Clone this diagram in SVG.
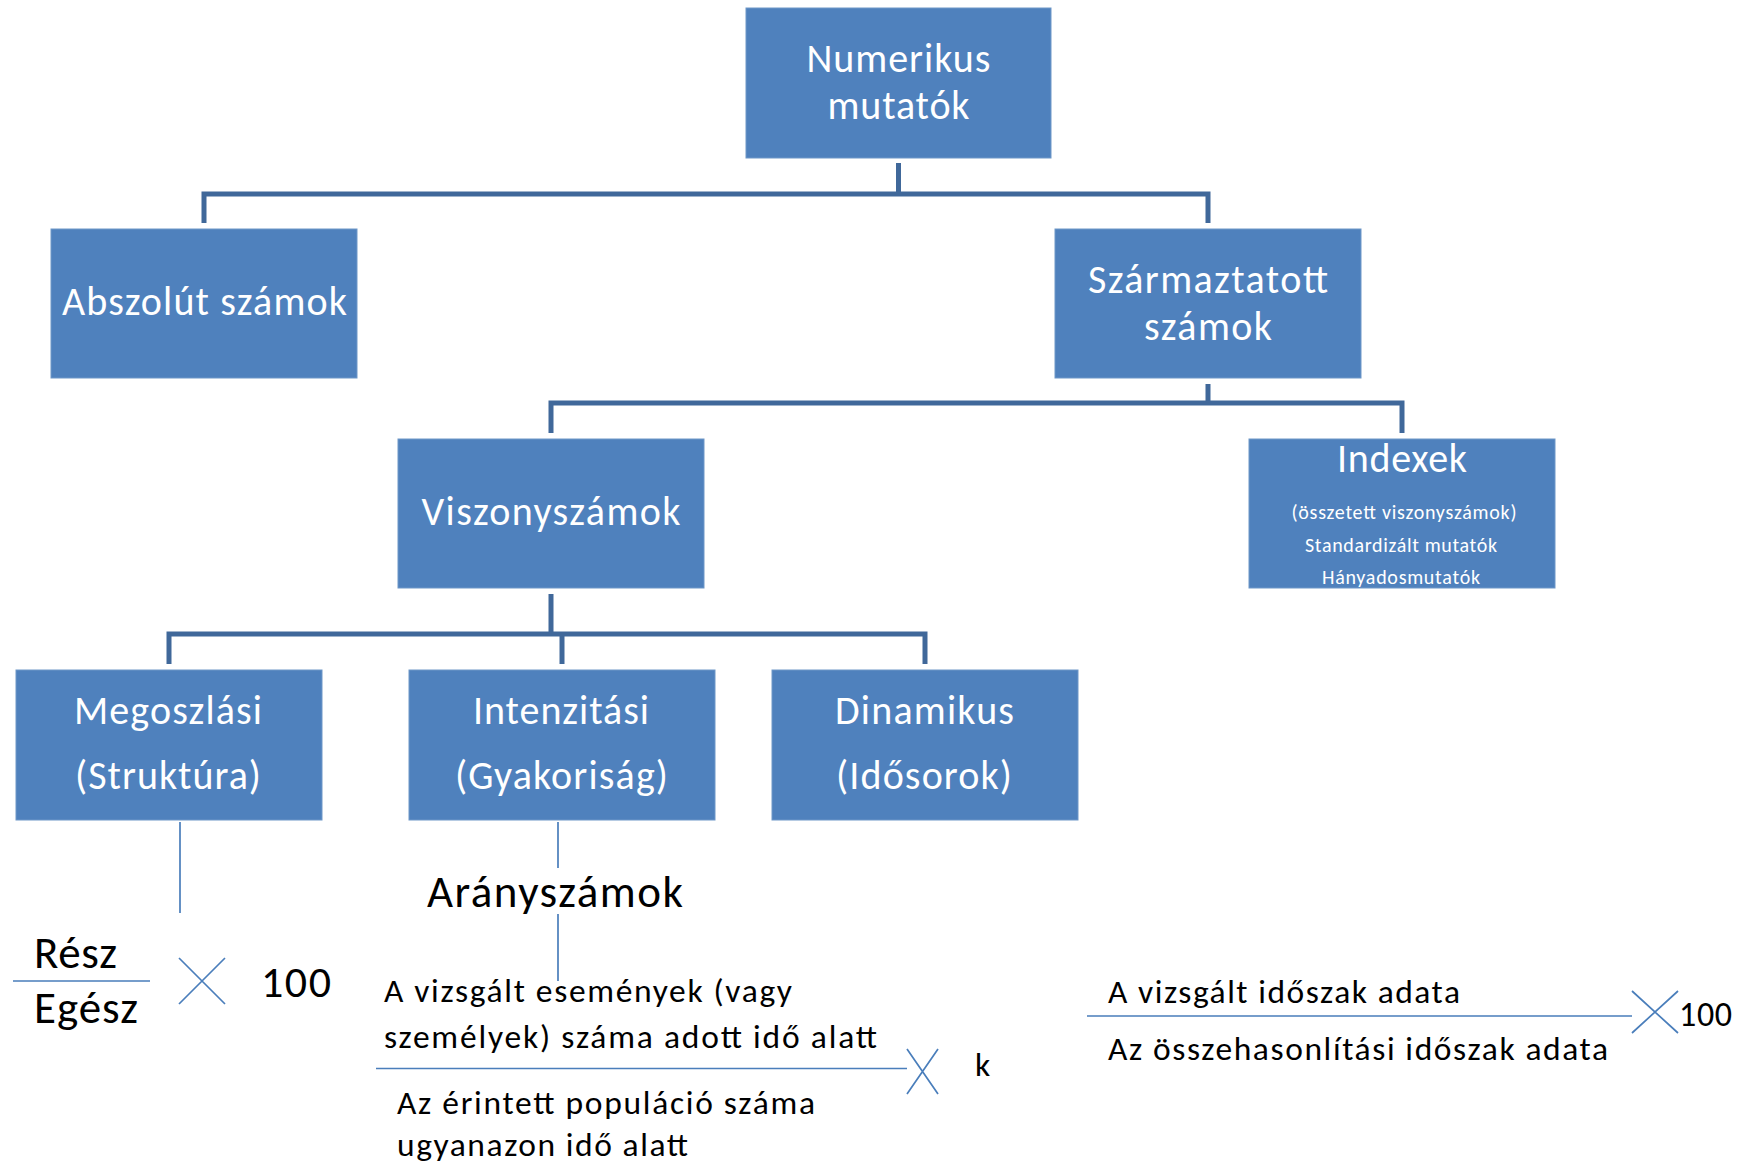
<svg xmlns="http://www.w3.org/2000/svg" width="1742" height="1165" viewBox="0 0 1742 1165">
<style>
.box{fill:#4F81BD;stroke:#6E97C8;stroke-width:1}
.bt{font-family:Carlito,Lato,"Open Sans",sans-serif;fill:#FFFFFF;font-size:40px;text-anchor:middle}
.st{font-family:Carlito,Lato,"Open Sans",sans-serif;fill:#FFFFFF;font-size:20px;text-anchor:middle}
.tk{fill:none;stroke:#40689A;stroke-width:5;stroke-linejoin:miter;stroke-linecap:butt}
.tn{fill:none;stroke:#4A7EBB;stroke-width:1.7}
.k{font-family:Carlito,Lato,"Open Sans",sans-serif;fill:#000000}
.big{font-size:45px}
.sm{font-size:33.5px}
</style>
<rect width="1742" height="1165" fill="#FFFFFF"/>
<g id="connectors">
<path class="tk" d="M898.5,163 V194 M204,223 V194 H1208 V223"/>
<path class="tk" d="M1208,384 V403 M551,433 V403 H1402 V433"/>
<path class="tk" d="M551,594 V634 M169,664 V634 H925 V664 M562,634 V664"/>
<path class="tn" d="M180,822 V913 M558,822 V868 M558,914 V981"/>
</g>
<g id="numerikus">
<rect class="box" x="746" y="8" width="305" height="150"/>
<text class="bt" x="898.5" y="72" textLength="184">Numerikus</text>
<text class="bt" x="898.5" y="119" textLength="142">mutatók</text>
</g>
<g id="abszolut">
<rect class="box" x="51" y="229" width="306" height="149"/>
<text class="bt" x="204.5" y="315" textLength="285">Abszolút számok</text>
</g>
<g id="szarmaztatott">
<rect class="box" x="1055" y="229" width="306" height="149"/>
<text class="bt" x="1208" y="293" textLength="240">Származtatott</text>
<text class="bt" x="1208" y="340" textLength="128">számok</text>
</g>
<g id="viszonyszamok">
<rect class="box" x="398" y="439" width="306" height="149"/>
<text class="bt" x="551" y="525" textLength="259">Viszonyszámok</text>
</g>
<g id="indexek">
<rect class="box" x="1249" y="439" width="306" height="149"/>
<text class="bt" x="1402" y="472" textLength="130">Indexek</text>
<text class="st" x="1404" y="519" textLength="225">(összetett viszonyszámok)</text>
<text class="st" x="1401" y="552" textLength="192">Standardizált mutatók</text>
<text class="st" x="1401" y="584" textLength="158">Hányadosmutatók</text>
</g>
<g id="megoszlasi">
<rect class="box" x="16" y="670" width="306" height="150"/>
<text class="bt" x="168" y="724" textLength="188">Megoszlási</text>
<text class="bt" x="168" y="789" textLength="186">(Struktúra)</text>
</g>
<g id="intenzitasi">
<rect class="box" x="409" y="670" width="306" height="150"/>
<text class="bt" x="561" y="724" textLength="176">Intenzitási</text>
<text class="bt" x="561.5" y="789" textLength="213">(Gyakoriság)</text>
</g>
<g id="dinamikus">
<rect class="box" x="772" y="670" width="306" height="150"/>
<text class="bt" x="924.5" y="724" textLength="179">Dinamikus</text>
<text class="bt" x="924" y="789" textLength="176">(Idősorok)</text>
</g>
<g id="aranyszamok">
<text class="k big" x="427" y="907" textLength="256">Arányszámok</text>
</g>
<g id="megoszlasi-keplet">
<path class="tn" d="M13,981 H150 M179,958 L225,1004 M225,958 L179,1004"/>
<text class="k big" x="34" y="968" textLength="83">Rész</text>
<text class="k big" x="34" y="1023" textLength="104">Egész</text>
<text class="k" x="261" y="997" font-size="44px" textLength="70">100</text>
</g>
<g id="intenzitasi-keplet">
<path class="tn" d="M376,1068.5 H907 M907,1049 L938,1094 M938,1049 L907,1094"/>
<text class="k sm" x="384" y="1002" textLength="408">A vizsgált események (vagy</text>
<text class="k sm" x="384" y="1048" textLength="493">személyek) száma adott idő alatt</text>
<text class="k sm" x="975" y="1076" textLength="15">k</text>
<text class="k sm" x="397" y="1114" textLength="418">Az érintett populáció száma</text>
<text class="k sm" x="397" y="1156" textLength="291">ugyanazon idő alatt</text>
</g>
<g id="dinamikus-keplet">
<path class="tn" d="M1087,1016 H1632 M1632,991 L1678,1033 M1678,991 L1632,1033"/>
<text class="k sm" x="1108" y="1002.5" textLength="352">A vizsgált időszak adata</text>
<text class="k sm" x="1108" y="1060" textLength="500">Az összehasonlítási időszak adata</text>
<text class="k" x="1679" y="1026" font-size="34px" textLength="53">100</text>
</g>
</svg>
